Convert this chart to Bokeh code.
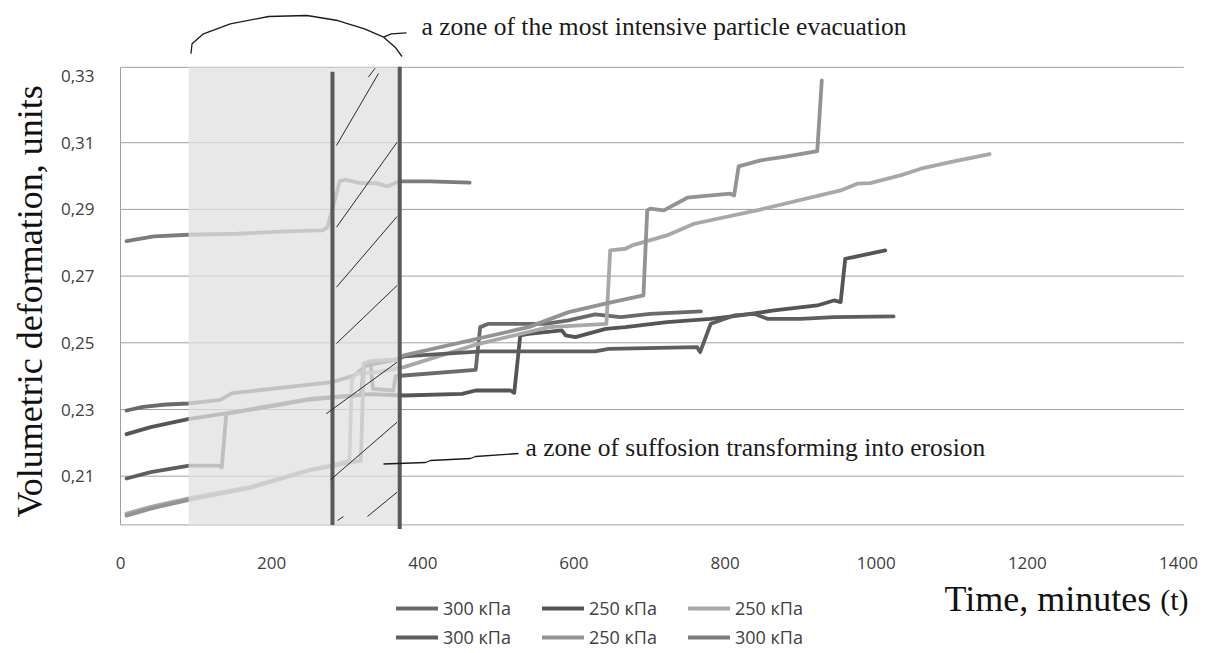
from math import pi
from bokeh.plotting import figure
from bokeh.models import (Range1d, FixedTicker, CustomJSTickFormatter, Label,
                          Legend, LegendItem)
from bokeh.core.properties import value
from bokeh.embed import file_html
from bokeh.resources import INLINE

# ---------------- data (time in minutes, volumetric deformation in units) ----------------
A_t = [8, 30, 60, 90, 132, 148, 280, 309, 328, 331, 334, 361, 364, 375, 470, 476, 487, 562, 593, 628, 662, 701, 768]
A_v = [0.2297, 0.2308, 0.2315, 0.2318, 0.2329, 0.2349, 0.2382, 0.2402, 0.2437, 0.2437, 0.2362, 0.2357, 0.2400,
       0.2402, 0.2419, 0.2547, 0.2557, 0.2557, 0.2567, 0.2585, 0.2577, 0.2587, 0.2594]

B_t = [8, 40, 91, 180, 251, 281, 330, 375, 452, 470, 516, 521, 529, 540, 584, 589, 602, 642, 668, 723, 781,
       820, 865, 922, 944, 953, 959, 970, 1012]
B_v = [0.2226, 0.2247, 0.2272, 0.2302, 0.2330, 0.2336, 0.2346, 0.2342, 0.2347, 0.2357, 0.2357, 0.2350, 0.2522,
       0.2527, 0.2537, 0.2522, 0.2517, 0.2542, 0.2547, 0.2562, 0.2572, 0.2582, 0.2597, 0.2612, 0.2627, 0.2622,
       0.2752, 0.2757, 0.2777]

C_t = [8, 40, 92, 172, 251, 281, 303, 306, 312, 340, 375, 474, 567, 643, 648, 668, 677, 723, 759, 842, 953, 975,
       992, 1032, 1059, 1098, 1150]
C_v = [0.1988, 0.2008, 0.2034, 0.2068, 0.2120, 0.2133, 0.2147, 0.2390, 0.2407, 0.2412, 0.2427, 0.2497, 0.2547,
       0.2557, 0.2777, 0.2782, 0.2792, 0.2822, 0.2857, 0.2897, 0.2957, 0.2977, 0.2979, 0.3002, 0.3022, 0.3042,
       0.3066]

D_t = [8, 40, 91, 130, 134, 140, 180, 251, 281, 318, 322, 366, 375, 478, 628, 646, 763, 767, 781, 812, 838, 856,
       900, 944, 1023]
D_v = [0.2093, 0.2112, 0.2132, 0.2132, 0.2126, 0.2287, 0.2304, 0.2332, 0.2338, 0.2343, 0.2430, 0.2450, 0.2459,
       0.2474, 0.2474, 0.2482, 0.2487, 0.2472, 0.2557, 0.2582, 0.2587, 0.2572, 0.2572, 0.2577, 0.2579]

E_t = [8, 40, 92, 172, 251, 281, 318, 322, 330, 366, 375, 540, 593, 640, 692, 697, 701, 719, 750, 767, 807, 812,
       818, 847, 882, 922, 928]
E_v = [0.1982, 0.2003, 0.2030, 0.2065, 0.2118, 0.2130, 0.2147, 0.2437, 0.2445, 0.2450, 0.2462, 0.2547, 0.2592,
       0.2617, 0.2642, 0.2897, 0.2902, 0.2897, 0.2935, 0.2939, 0.2947, 0.2942, 0.3029, 0.3047, 0.3059, 0.3075,
       0.3287]

F_t = [8, 44, 90, 155, 226, 267, 274, 290, 297, 317, 338, 353, 368, 409, 462]
F_v = [0.2805, 0.2819, 0.2824, 0.2827, 0.2835, 0.2837, 0.2847, 0.2984, 0.2989, 0.2979, 0.2979, 0.2969, 0.2984,
       0.2984, 0.2980]

SERIES_LABELS = ["300 кПа", "250 кПа", "250 кПа", "300 кПа", "250 кПа", "300 кПа"]
SERIES_COLORS = ["#6a6a6a", "#555555", "#a8a8a8", "#5e5e5e", "#939393", "#7c7c7c"]

X_TICKS = [0, 200, 400, 600, 800, 1000, 1200, 1400]
Y_TICKS = [0.21, 0.23, 0.25, 0.27, 0.29, 0.31, 0.33]

# plot-area frame (Excel-like) and annotation geometry
X_END = 1407
Y_BOTTOM, Y_TOP = 0.1954, 0.3326
GRID_LEVELS = [Y_BOTTOM, 0.21, 0.23, 0.25, 0.27, 0.29, 0.31, Y_TOP]
ZONE_X0, ZONE_X1 = 90, 369.5          # shaded zone of most intensive evacuation
LINE1_X, LINE2_X = 280.5, 369.5       # thick vertical boundaries

HATCH_XS = [[327.9, 337.0], [285.8, 341.4], [285.8, 366.0], [285.8, 366.0], [285.8, 366.0],
            [272.2, 366.0], [277.9, 366.0], [326.8, 366.0], [287.2, 295.1]]
HATCH_YS = [[0.32964, 0.33234], [0.30916, 0.33075], [0.28466, 0.31015], [0.26667, 0.28787],
            [0.24979, 0.26718], [0.22871, 0.24418], [0.20892, 0.22619], [0.19792, 0.2052],
            [0.19672, 0.19792]]

ARC_X = [93.2, 94.7, 109.8, 145.4, 196.1, 246.8, 287.4, 322.9, 348.2, 363.4, 372.5]
ARC_Y = [0.33666, 0.33966, 0.34265, 0.34565, 0.34784, 0.34814, 0.34664, 0.34415, 0.34163, 0.33864, 0.33585]
TOP_LEADER_X = [348.2, 358.3, 378.5]
TOP_LEADER_Y = [0.34163, 0.34265, 0.34295]
BOT_LEADER_X = [348.0, 403.6, 410.3, 463.1, 469.8, 526.7]
BOT_LEADER_Y = [0.21366, 0.21411, 0.21471, 0.21531, 0.21591, 0.21681]

GRID_COLOR = "#9e9e9e"
INK = "#1a1a1a"

# the frame fills the whole canvas; axes are pinned to the plot-area edges
p = figure(width=1205, height=653, output_backend="svg", toolbar_location=None,
           x_range=Range1d(-158.79, 1435.76), y_range=Range1d(0.156837, 0.352640),
           min_border=0, min_border_left=0, min_border_right=0, min_border_top=0, min_border_bottom=0)
p.outline_line_color = None
p.background_fill_color = "white"
p.border_fill_color = "white"
p.xgrid.grid_line_color = None
p.ygrid.grid_line_color = None

for ax in (p.xaxis, p.yaxis):
    ax.axis_line_color = None
    ax.major_tick_line_color = None
    ax.minor_tick_line_color = None
    ax.major_tick_out = 0
    ax.major_tick_in = 0
    ax.major_label_text_font = "Open Sans"
    ax.major_label_text_font_size = "17px"
    ax.major_label_text_color = "#404040"
p.xaxis.ticker = FixedTicker(ticks=X_TICKS)
p.xaxis.fixed_location = Y_BOTTOM
p.xaxis.major_label_standoff = 32
p.yaxis.ticker = FixedTicker(ticks=Y_TICKS)
p.yaxis.formatter = CustomJSTickFormatter(code="return tick.toFixed(2).replace('.', ',');")
p.yaxis.fixed_location = 0
p.yaxis.major_label_standoff = 26

# horizontal gridlines and left border of the plot area
p.segment(x0=[0] * len(GRID_LEVELS), y0=GRID_LEVELS, x1=[X_END] * len(GRID_LEVELS), y1=GRID_LEVELS,
          line_color=GRID_COLOR, line_width=1)
p.segment(x0=[0], y0=[Y_BOTTOM], x1=[0], y1=[Y_TOP], line_color=GRID_COLOR, line_width=1)

# series
renderers = []
for t, v, c in zip([A_t, B_t, C_t, D_t, E_t, F_t], [A_v, B_v, C_v, D_v, E_v, F_v], SERIES_COLORS):
    r = p.line(t, v, line_color=c, line_width=3.8, line_join="round", line_cap="round")
    renderers.append(r)

# translucent zone over the lines
p.quad(left=[ZONE_X0], right=[ZONE_X1], bottom=[Y_BOTTOM], top=[Y_TOP],
       fill_color="#e0e0e0", fill_alpha=0.75, line_color=None)

# thick boundaries
p.segment(x0=[LINE1_X, LINE2_X], y0=[Y_BOTTOM, 0.1942], x1=[LINE1_X, LINE2_X], y1=[0.3313, 0.3328],
          line_color="#595959", line_width=4)

# hatching
p.multi_line(xs=HATCH_XS, ys=HATCH_YS, line_color="#2a2a2a", line_width=1)

# arc + leaders
p.line(ARC_X, ARC_Y, line_color=INK, line_width=1.3)
p.line(TOP_LEADER_X, TOP_LEADER_Y, line_color=INK, line_width=1.3)
p.line(BOT_LEADER_X, BOT_LEADER_Y, line_color=INK, line_width=1.3)

p.text(x=[398.3], y=[0.34484], text=["a zone of the most intensive particle evacuation"],
       text_font=value("Liberation Serif"), text_font_size="25.5px", text_baseline="alphabetic",
       text_align="left", text_color=INK)
p.text(x=[535.9], y=[0.21861], text=["a zone of suffosion transforming into erosion"],
       text_font=value("Liberation Serif"), text_font_size="25.5px", text_baseline="alphabetic",
       text_align="left", text_color=INK)

# axis titles (screen units measured from the canvas bottom-left)
p.add_layout(Label(x=29.5, y=136, x_units="screen", y_units="screen", angle=pi / 2,
                   text="Volumetric deformation, units", text_font="Liberation Serif",
                   text_font_size="36px", text_align="left", text_baseline="alphabetic",
                   text_color="#111111"))
p.add_layout(Label(x=944, y=55, x_units="screen", y_units="screen",
                   text="Time, minutes", text_font="Liberation Serif",
                   text_font_size="36px", text_align="left", text_baseline="alphabetic",
                   text_color="#111111"))
p.add_layout(Label(x=1188, y=54, x_units="screen", y_units="screen",
                   text="(t)", text_font="Liberation Serif",
                   text_font_size="30px", text_align="right", text_baseline="alphabetic",
                   text_color="#111111"))

legend = Legend(items=[LegendItem(label=lab, renderers=[r]) for lab, r in zip(SERIES_LABELS, renderers)],
                location=(396, 4), orientation="horizontal", ncols=3,
                glyph_width=42, glyph_height=20, label_height=20, label_width=94,
                label_standoff=5, spacing=5, padding=0, margin=0,
                background_fill_alpha=0, border_line_color=None,
                label_text_font="Open Sans", label_text_font_size="18px",
                label_text_color="#404040")
p.add_layout(legend)

open("out.html", "w").write(file_html(p, INLINE))
